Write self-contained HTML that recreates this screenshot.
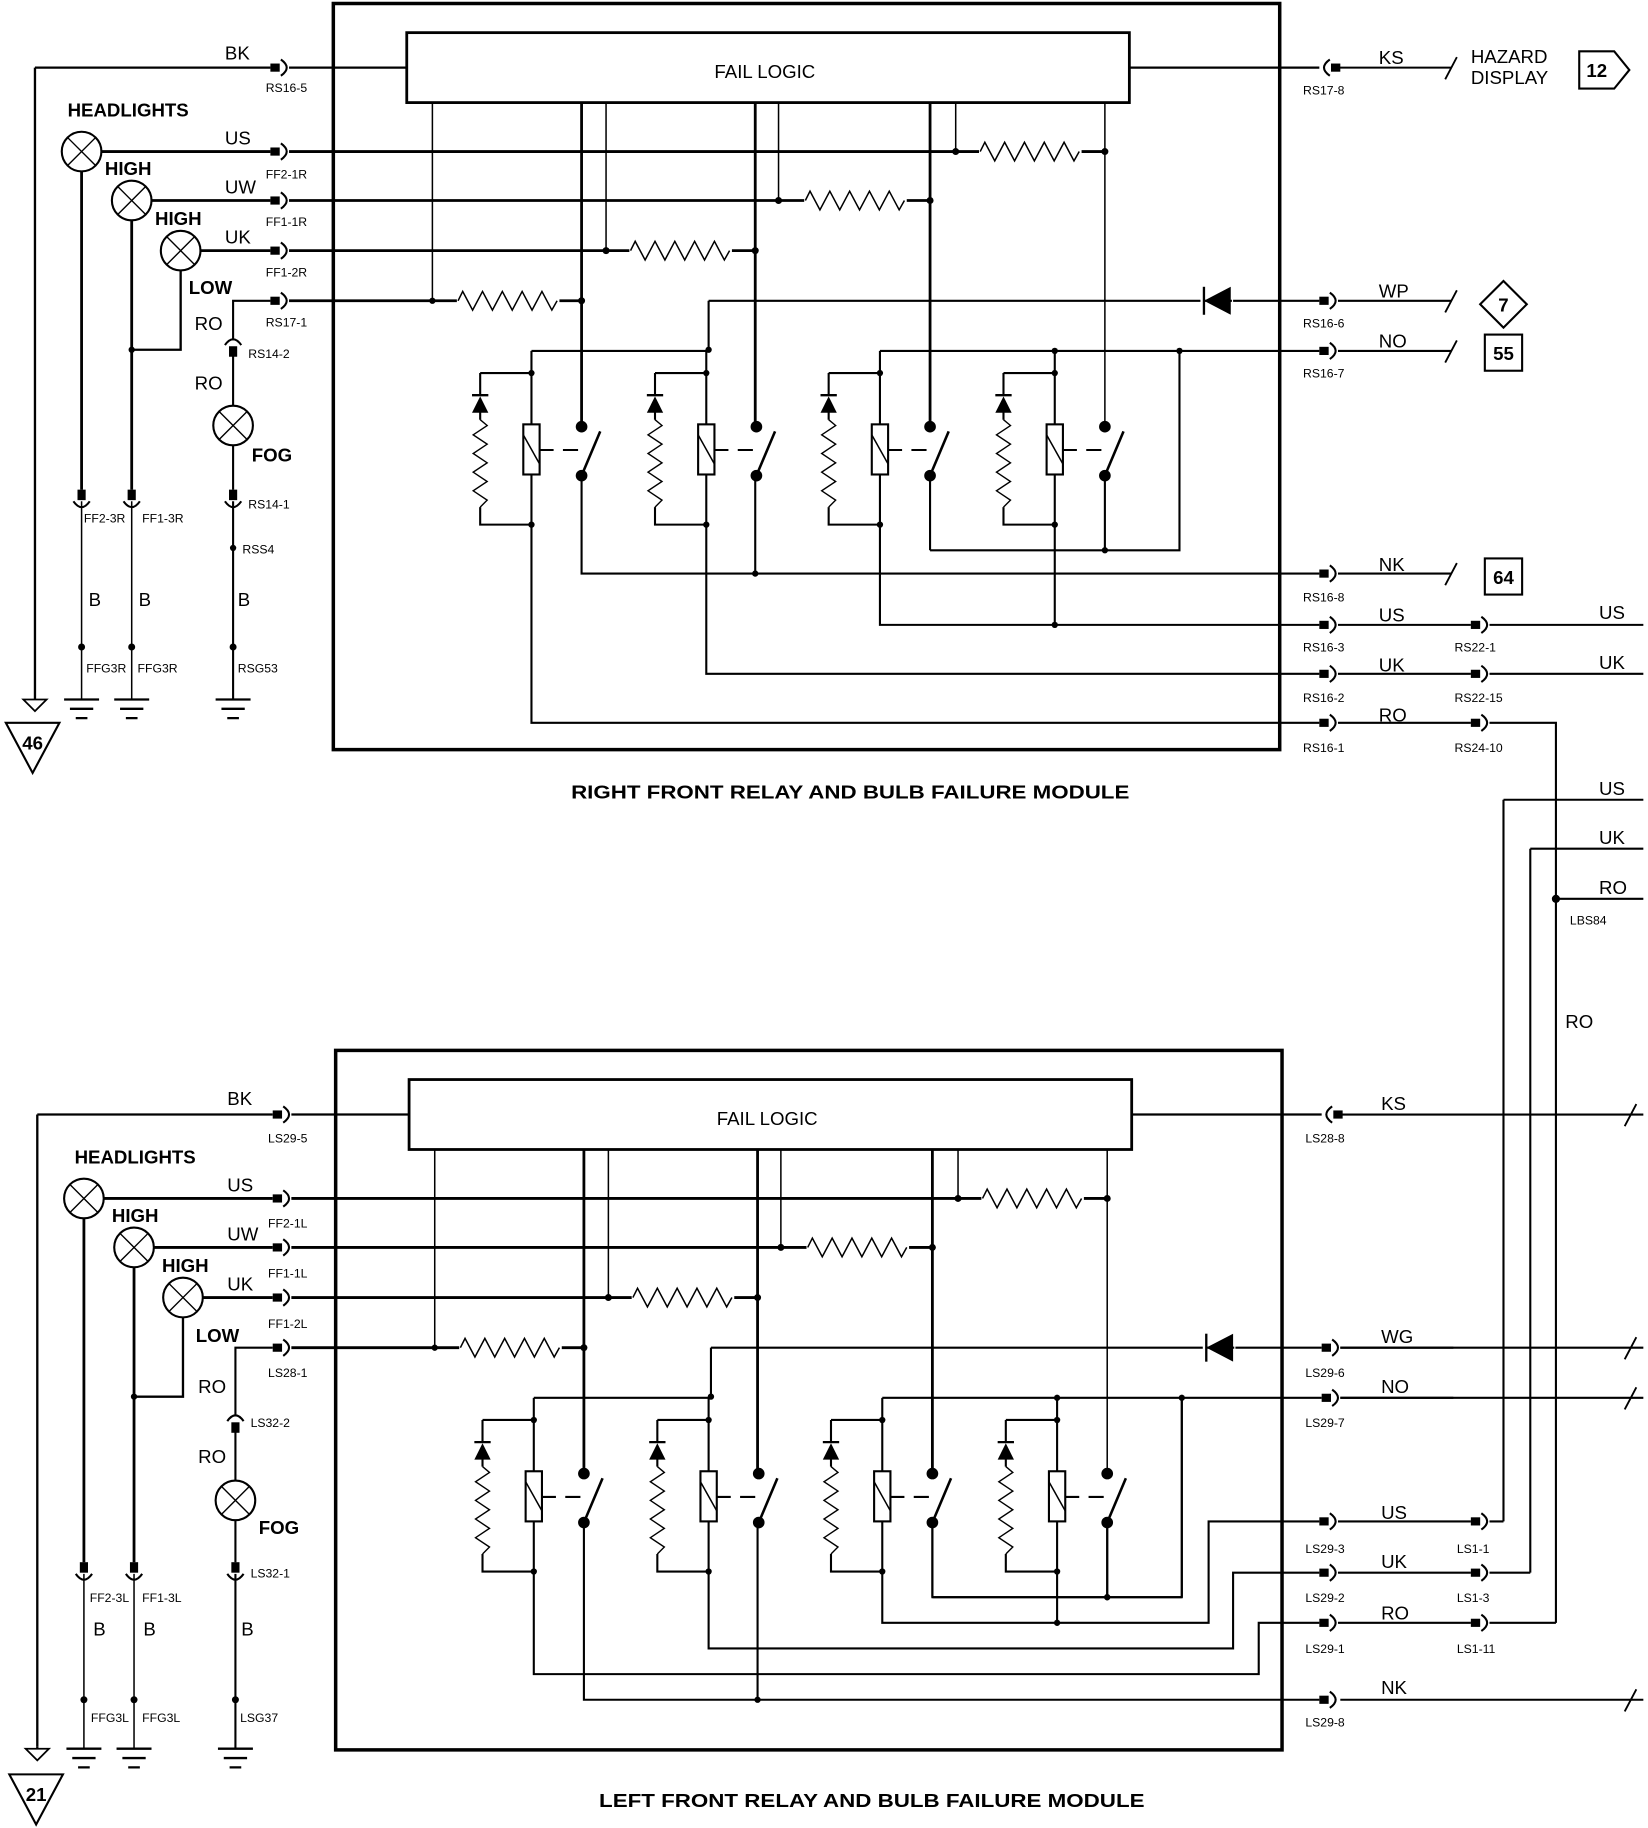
<!DOCTYPE html>
<html><head><meta charset="utf-8"><style>
html,body{margin:0;padding:0;background:#fff}
svg{display:block}
text{font-family:"Liberation Sans",sans-serif;fill:#000}
.s{font-size:10.5px}
.w{font-size:16px}
.b{font-size:16px;font-weight:bold}
</style></head><body>
<svg width="1648" height="1828" viewBox="0 0 1414 1568" preserveAspectRatio="none" xmlns="http://www.w3.org/2000/svg">
<defs>
<g id="cr"><rect x="-9" y="-3.5" width="8" height="7" fill="#000"/><path d="M0,-7 Q10,0 0,7" fill="none" stroke="#000" stroke-width="1.8"/></g>
<g id="cd"><rect x="-3.5" y="-10" width="7" height="9" fill="#000"/><path d="M-7,0 Q0,10 7,0" fill="none" stroke="#000" stroke-width="1.8"/></g>
<g id="cu"><rect x="-3.5" y="1" width="7" height="9" fill="#000"/><path d="M-7,0 Q0,-10 7,0" fill="none" stroke="#000" stroke-width="1.8"/></g>
<g id="lamp"><circle r="17" fill="#fff" stroke="#000" stroke-width="1.8"/><path d="M-12,-12 L12,12 M12,-12 L-12,12" stroke="#000" stroke-width="1.2"/></g>
<g id="gnd" stroke="#000" stroke-width="2"><path d="M-15,0 H15 M-10,8 H10 M-5,16 H5"/></g>
<path id="rh" d="M0,0 L4,-8 L12.5,8 L21,-8 L29.5,8 L38,-8 L46.5,8 L55,-8 L63.5,8 L72,-8 L80.5,8 L85,0" fill="none" stroke="#000" stroke-width="1.3"/>
<g id="relay" fill="none" stroke="#000">
 <path d="M-44,320 H0 M-44,320 V338 M-44,352 V360 M-44,435 V450 H0" stroke-width="1.8"/>
 <polygon points="-51,354 -37,354 -44,340" fill="#000" stroke="none"/>
 <path d="M-51,339 H-37" stroke-width="2"/>
 <path d="M-44,360 L-38,365 L-50,373 L-38,381 L-50,389 L-38,397 L-50,405 L-38,413 L-50,421 L-38,429 L-44,435" stroke-width="1.2"/>
 <rect x="-7" y="364" width="14" height="43" fill="#fff" stroke-width="1.8"/>
 <path d="M-7,373 L7,398" stroke-width="1.3"/>
 <path d="M7,386 H19 M27,386 H40" stroke-width="1.8"/>
 <circle cx="43" cy="366" r="5" fill="#000" stroke="none"/>
 <circle cx="43" cy="408" r="5" fill="#000" stroke="none"/>
 <path d="M43,408 L59,370" stroke-width="2.2"/>
 <circle cx="0" cy="320" r="2.7" fill="#000" stroke="none"/>
 <circle cx="0" cy="450" r="2.7" fill="#000" stroke="none"/>
</g>
<g id="mod">
 <!-- left lamps & lines -->
 <path d="M30,58 H232 M248,58 H349" stroke="#000" stroke-width="2" fill="none"/>
 <path d="M30,58 V600" stroke="#000" stroke-width="2"/>
 <path d="M87,130 H232 M248,130 H948 M130,172 H232 M248,172 H798 M172,215 H232 M248,215 H650 M248,258 H500" stroke="#000" stroke-width="2.4" fill="none"/>
 <use href="#cr" x="241" y="58"/><use href="#cr" x="241" y="130"/><use href="#cr" x="241" y="172"/><use href="#cr" x="241" y="215"/><use href="#cr" x="241" y="258"/>
 <use href="#lamp" x="70" y="130"/><use href="#lamp" x="113" y="172"/><use href="#lamp" x="155" y="215"/>
 <path d="M155,232 V300 H113" stroke="#000" stroke-width="2" fill="none"/>
 <circle cx="113" cy="300" r="2.7"/>
 <!-- fail logic -->
 <rect x="349" y="28" width="620" height="60" fill="#fff" stroke="#000" stroke-width="2.4"/>
 <path d="M969,58 H1132" stroke="#000" stroke-width="2"/>
 <!-- verticals from fail logic -->
 <path d="M371,88 V258 M520,88 V215 M668,88 V172 M820,88 V130 M948,88 V366" stroke="#000" stroke-width="1.3" fill="none"/>
 <path d="M499,88 V366 M648,88 V366 M798,88 V366" stroke="#000" stroke-width="2.4" fill="none"/>
 <circle cx="371" cy="258" r="2.7"/><circle cx="499" cy="258" r="3"/>
 <circle cx="520" cy="215" r="3"/><circle cx="648" cy="215" r="3"/>
 <circle cx="668" cy="172" r="3"/><circle cx="798" cy="172" r="3"/>
 <circle cx="820" cy="130" r="3"/><circle cx="948" cy="130" r="3"/>
 <!-- resistors on lines (white behind) -->
 <rect x="392" y="250" width="88" height="16" fill="#fff"/><use href="#rh" x="393" y="258"/>
 <rect x="540" y="207" width="88" height="16" fill="#fff"/><use href="#rh" x="541" y="215"/>
 <rect x="690" y="164" width="88" height="16" fill="#fff"/><use href="#rh" x="691" y="172"/>
 <rect x="840" y="122" width="88" height="16" fill="#fff"/><use href="#rh" x="841" y="130"/>
 <!-- WP line with diode -->
 <path d="M608,258 H1132 M608,258 V300" stroke="#000" stroke-width="1.8" fill="none"/>
 <rect x="1030" y="246" width="28" height="24" fill="#fff"/>
 <path d="M1033,258 H1057" stroke="#000" stroke-width="1.8"/>
 <polygon points="1033,258 1056,246 1056,270" fill="#000"/>
 <path d="M1033,246 V270" stroke="#000" stroke-width="2"/>
 <!-- NO lines -->
 <path d="M456,301 H608 M755,301 H1132 M1012,301 V472 H798" stroke="#000" stroke-width="1.8" fill="none"/>
 <circle cx="608" cy="300" r="2.7"/><circle cx="905" cy="301" r="2.7"/><circle cx="1012" cy="301" r="2.7"/>
 <!-- relays -->
 <use href="#relay" x="456"/><use href="#relay" x="606"/><use href="#relay" x="755"/><use href="#relay" x="905"/>
 <path d="M456,301 V364 M456,407 V450 M606,300 V364 M606,407 V450 M755,301 V364 M755,407 V450 M905,301 V364 M905,407 V450" stroke="#000" stroke-width="1.8"/>
 <path d="M948,408 V472 M798,408 V472" stroke="#000" stroke-width="1.8"/>
 <circle cx="948" cy="472" r="2.7"/>
 <use href="#cr" x="1141" y="258"/><use href="#cr" x="1141" y="301"/>
 <path d="M1148,258 H1245 M1148,301 H1245" stroke="#000" stroke-width="1.8"/>
</g>
</defs>

<!-- ===== TOP MODULE ===== -->
<use href="#mod"/>
<rect x="286" y="3" width="812" height="640" fill="none" stroke="#000" stroke-width="3"/>
<!-- left lower -->
<path d="M70,147 V420 M113,189 V420" stroke="#000" stroke-width="2.4"/>
<path d="M70,430 V600 M113,430 V600" stroke="#000" stroke-width="1.3"/>
<use href="#cd" x="70" y="430"/><use href="#cd" x="113" y="430"/>
<circle cx="70" cy="555" r="3"/><circle cx="113" cy="555" r="3"/>
<use href="#gnd" x="70" y="600"/><use href="#gnd" x="113" y="600"/>
<path d="M232,258 H200 V292 M200,305 V348 M200,382 V420 M200,430 V600" stroke="#000" stroke-width="1.8" fill="none"/>
<use href="#cu" x="200" y="296"/><use href="#lamp" x="200" y="365"/><use href="#cd" x="200" y="430"/>
<circle cx="200" cy="470" r="2.7"/><circle cx="200" cy="555" r="3"/>
<use href="#gnd" x="200" y="600"/>
<polygon points="20,600 40,600 30,610" fill="#fff" stroke="#000" stroke-width="1.5"/>
<polygon points="5,620 51,620 28,663" fill="#fff" stroke="#000" stroke-width="1.8"/>
<text x="28" y="643" class="b" text-anchor="middle">46</text>
<!-- top internal bottom wiring -->
<path d="M499,408 V492 H1132 M648,408 V492" stroke="#000" stroke-width="1.8" fill="none"/>
<circle cx="648" cy="492" r="2.7"/>
<path d="M755,450 V536 H1132 M905,450 V536" stroke="#000" stroke-width="1.8" fill="none"/>
<circle cx="905" cy="536" r="2.7"/>
<path d="M606,450 V578 H1132 M456,450 V620 H1132" stroke="#000" stroke-width="1.8" fill="none"/>
<!-- right side top -->
<g transform="translate(1141,58) scale(-1,1)"><use href="#cr"/></g>
<path d="M1148,58 H1245" stroke="#000" stroke-width="1.8"/>
<path d="M1240,68 L1250,49 M1240,311 L1250,292 M1240,268 L1250,249 M1240,502 L1250,483" stroke="#000" stroke-width="1.6"/>
<use href="#cr" x="1141" y="492"/><use href="#cr" x="1141" y="536"/><use href="#cr" x="1141" y="578"/><use href="#cr" x="1141" y="620"/>
<path d="M1148,492 H1245 M1148,536 H1262 M1148,578 H1262 M1148,620 H1262" stroke="#000" stroke-width="1.8"/>
<use href="#cr" x="1271" y="536"/><use href="#cr" x="1271" y="578"/><use href="#cr" x="1271" y="620"/>
<path d="M1278,536 H1410 M1278,578 H1410 M1278,620 H1335 V1392 M1290,686 H1410 M1290,686 V1305 M1313,728 H1410 M1313,728 V1349 M1335,771 H1410" stroke="#000" stroke-width="1.8" fill="none"/>
<circle cx="1335" cy="771" r="3.5"/>
<path d="M1355,44 H1385 L1398,60 L1385,76 H1355 Z" fill="#fff" stroke="#000" stroke-width="1.8"/>
<text x="1370" y="66" class="b" text-anchor="middle">12</text>
<polygon points="1290,241 1310,261 1290,281 1270,261" fill="#fff" stroke="#000" stroke-width="1.8"/>
<text x="1290" y="267" class="b" text-anchor="middle">7</text>
<rect x="1274" y="287" width="32" height="31" fill="#fff" stroke="#000" stroke-width="1.8"/>
<text x="1290" y="309" class="b" text-anchor="middle">55</text>
<rect x="1274" y="479" width="32" height="31" fill="#fff" stroke="#000" stroke-width="1.8"/>
<text x="1290" y="501" class="b" text-anchor="middle">64</text>

<!-- top texts -->
<text x="193" y="51" class="w">BK</text><text x="228" y="79" class="s">RS16-5</text>
<text x="58" y="100" class="b">HEADLIGHTS</text>
<text x="193" y="124" class="w">US</text><text x="228" y="153" class="s">FF2-1R</text>
<text x="90" y="150" class="b">HIGH</text>
<text x="193" y="166" class="w">UW</text><text x="228" y="194" class="s">FF1-1R</text>
<text x="133" y="193" class="b">HIGH</text>
<text x="193" y="209" class="w">UK</text><text x="228" y="237" class="s">FF1-2R</text>
<text x="162" y="252" class="b">LOW</text><text x="228" y="280" class="s">RS17-1</text>
<text x="167" y="283" class="w">RO</text><text x="213" y="307" class="s">RS14-2</text>
<text x="167" y="334" class="w">RO</text><text x="216" y="396" class="b">FOG</text>
<text x="213" y="436" class="s">RS14-1</text><text x="208" y="475" class="s">RSS4</text>
<text x="72" y="448" class="s">FF2-3R</text><text x="122" y="448" class="s">FF1-3R</text>
<text x="76" y="520" class="w">B</text><text x="119" y="520" class="w">B</text><text x="204" y="520" class="w">B</text>
<text x="74" y="577" class="s">FFG3R</text><text x="118" y="577" class="s">FFG3R</text><text x="204" y="577" class="s">RSG53</text>
<text x="613" y="67" class="w">FAIL LOGIC</text>
<text x="1183" y="55" class="w">KS</text><text x="1118" y="81" class="s">RS17-8</text>
<text x="1262" y="54" class="w">HAZARD</text><text x="1262" y="72" class="w">DISPLAY</text>
<text x="1183" y="255" class="w">WP</text><text x="1118" y="281" class="s">RS16-6</text>
<text x="1183" y="298" class="w">NO</text><text x="1118" y="324" class="s">RS16-7</text>
<text x="1183" y="490" class="w">NK</text><text x="1118" y="516" class="s">RS16-8</text>
<text x="1183" y="533" class="w">US</text><text x="1118" y="559" class="s">RS16-3</text><text x="1248" y="559" class="s">RS22-1</text><text x="1372" y="531" class="w">US</text>
<text x="1183" y="576" class="w">UK</text><text x="1118" y="602" class="s">RS16-2</text><text x="1248" y="602" class="s">RS22-15</text><text x="1372" y="574" class="w">UK</text>
<text x="1183" y="619" class="w">RO</text><text x="1118" y="645" class="s">RS16-1</text><text x="1248" y="645" class="s">RS24-10</text>
<text x="1372" y="682" class="w">US</text><text x="1372" y="724" class="w">UK</text><text x="1372" y="767" class="w">RO</text>
<text x="1347" y="793" class="s">LBS84</text><text x="1343" y="882" class="w">RO</text>
<text x="490" y="685" class="b" textLength="479" lengthAdjust="spacingAndGlyphs">RIGHT FRONT RELAY AND BULB FAILURE MODULE</text>

<!-- ===== BOTTOM MODULE ===== -->
<use href="#mod" transform="translate(2,898)"/>
<rect x="288" y="901" width="812" height="600" fill="none" stroke="#000" stroke-width="3"/>
<path d="M32,1498 V1500" stroke="#000" stroke-width="2"/>
<path d="M72,1045 V1340 M115,1087 V1340" stroke="#000" stroke-width="2.4"/>
<path d="M72,1350 V1500 M115,1350 V1500" stroke="#000" stroke-width="1.3"/>
<use href="#cd" x="72" y="1350"/><use href="#cd" x="115" y="1350"/>
<circle cx="72" cy="1458" r="3"/><circle cx="115" cy="1458" r="3"/>
<use href="#gnd" x="72" y="1500"/><use href="#gnd" x="115" y="1500"/>
<path d="M234,1156 H202 V1215 M202,1228 V1270 M202,1304 V1340 M202,1350 V1500" stroke="#000" stroke-width="1.8" fill="none"/>
<use href="#cu" x="202" y="1219"/><use href="#lamp" x="202" y="1287"/><use href="#cd" x="202" y="1350"/>
<circle cx="202" cy="1458" r="3"/>
<use href="#gnd" x="202" y="1500"/>
<polygon points="22,1500 42,1500 32,1510" fill="#fff" stroke="#000" stroke-width="1.5"/>
<polygon points="8,1522 54,1522 31,1565" fill="#fff" stroke="#000" stroke-width="1.8"/>
<text x="31" y="1545" class="b" text-anchor="middle">21</text>
<!-- bottom internal wiring -->
<path d="M800,1306 V1370 H1014 M950,1306 V1370 M1014,1199 V1370" stroke="#000" stroke-width="1.8" fill="none"/>
<circle cx="950" cy="1370" r="2.7"/>
<path d="M757,1348 V1392 H1037 V1305 H1132 M907,1348 V1392" stroke="#000" stroke-width="1.8" fill="none"/>
<circle cx="907" cy="1392" r="2.7"/>
<path d="M608,1348 V1414 H1058 V1349 H1132" stroke="#000" stroke-width="1.8" fill="none"/>
<path d="M458,1348 V1436 H1080 V1392 H1132" stroke="#000" stroke-width="1.8" fill="none"/>
<path d="M501,1306 V1458 H1132 M650,1306 V1458" stroke="#000" stroke-width="1.8" fill="none"/>
<circle cx="650" cy="1458" r="2.7"/>
<!-- bottom right -->
<g transform="translate(1143,956) scale(-1,1)"><use href="#cr"/></g>
<path d="M1150,956 H1410 M1150,1156 H1410 M1150,1199 H1410 M1150,1458 H1410" stroke="#000" stroke-width="1.8"/>
<path d="M1394,966 L1404,947 M1394,1166 L1404,1147 M1394,1209 L1404,1190 M1394,1468 L1404,1449" stroke="#000" stroke-width="1.6"/>
<use href="#cr" x="1141" y="1305"/><use href="#cr" x="1141" y="1349"/><use href="#cr" x="1141" y="1392"/><use href="#cr" x="1141" y="1458"/>
<path d="M1148,1305 H1262 M1148,1349 H1262 M1148,1392 H1262" stroke="#000" stroke-width="1.8"/>
<use href="#cr" x="1271" y="1305"/><use href="#cr" x="1271" y="1349"/><use href="#cr" x="1271" y="1392"/>
<path d="M1278,1305 H1290 M1278,1349 H1313 M1278,1392 H1335" stroke="#000" stroke-width="1.8"/>

<!-- bottom texts -->
<text x="195" y="948" class="w">BK</text><text x="230" y="980" class="s">LS29-5</text>
<text x="64" y="998" class="b">HEADLIGHTS</text>
<text x="195" y="1022" class="w">US</text><text x="230" y="1053" class="s">FF2-1L</text>
<text x="96" y="1048" class="b">HIGH</text>
<text x="195" y="1064" class="w">UW</text><text x="230" y="1096" class="s">FF1-1L</text>
<text x="139" y="1091" class="b">HIGH</text>
<text x="195" y="1107" class="w">UK</text><text x="230" y="1139" class="s">FF1-2L</text>
<text x="168" y="1151" class="b">LOW</text><text x="230" y="1181" class="s">LS28-1</text>
<text x="170" y="1195" class="w">RO</text><text x="215" y="1224" class="s">LS32-2</text>
<text x="170" y="1255" class="w">RO</text><text x="222" y="1316" class="b">FOG</text>
<text x="215" y="1353" class="s">LS32-1</text>
<text x="77" y="1374" class="s">FF2-3L</text><text x="122" y="1374" class="s">FF1-3L</text>
<text x="80" y="1403" class="w">B</text><text x="123" y="1403" class="w">B</text><text x="207" y="1403" class="w">B</text>
<text x="78" y="1477" class="s">FFG3L</text><text x="122" y="1477" class="s">FFG3L</text><text x="206" y="1477" class="s">LSG37</text>
<text x="615" y="965" class="w">FAIL LOGIC</text>
<text x="1185" y="952" class="w">KS</text><text x="1120" y="980" class="s">LS28-8</text>
<text x="1185" y="1152" class="w">WG</text><text x="1120" y="1181" class="s">LS29-6</text>
<text x="1185" y="1195" class="w">NO</text><text x="1120" y="1224" class="s">LS29-7</text>
<text x="1185" y="1303" class="w">US</text><text x="1120" y="1332" class="s">LS29-3</text><text x="1250" y="1332" class="s">LS1-1</text>
<text x="1185" y="1345" class="w">UK</text><text x="1120" y="1374" class="s">LS29-2</text><text x="1250" y="1374" class="s">LS1-3</text>
<text x="1185" y="1389" class="w">RO</text><text x="1120" y="1418" class="s">LS29-1</text><text x="1250" y="1418" class="s">LS1-11</text>
<text x="1185" y="1453" class="w">NK</text><text x="1120" y="1481" class="s">LS29-8</text>
<text x="514" y="1550" class="b" textLength="468" lengthAdjust="spacingAndGlyphs">LEFT FRONT RELAY AND BULB FAILURE MODULE</text>
</svg>
</body></html>
